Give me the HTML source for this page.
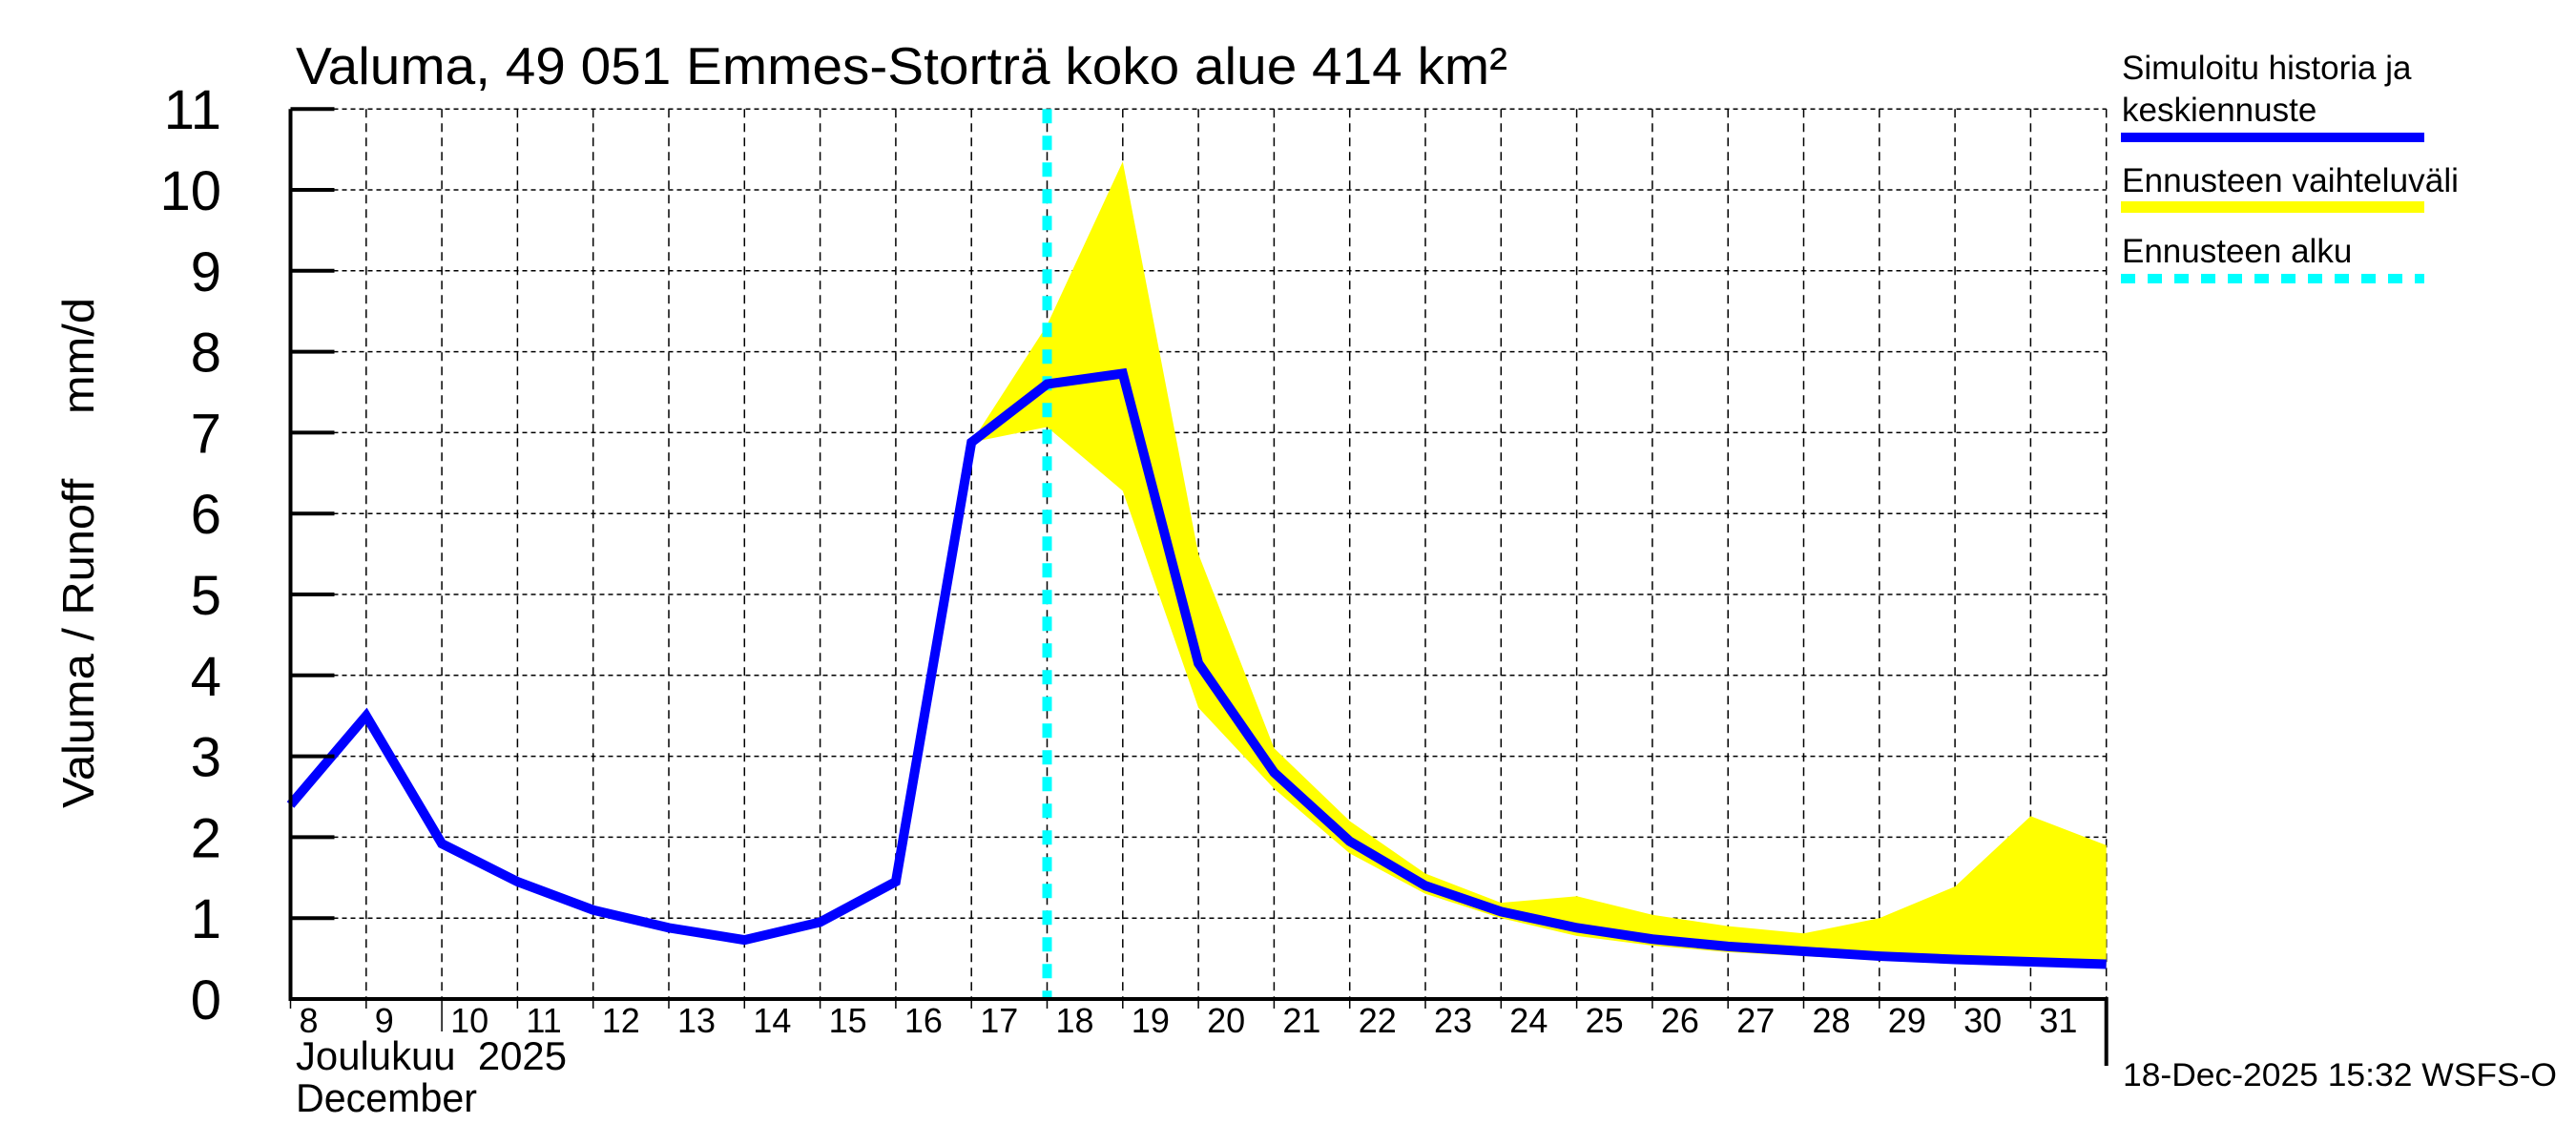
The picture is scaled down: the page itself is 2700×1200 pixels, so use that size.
<!DOCTYPE html>
<html><head><meta charset="utf-8">
<style>
html,body{margin:0;padding:0;background:#fff;}
svg{display:block;font-family:"Liberation Sans",sans-serif;}
</style></head>
<body>
<svg id="chart" width="2700" height="1200" viewBox="0 0 2700 1200" xmlns="http://www.w3.org/2000/svg">
<rect width="2700" height="1200" fill="#fff"/>
<g id="grid"></g>
<g id="band"></g>
<g id="series"></g>
<g id="axes"></g>
<text x="310" y="88" font-size="55" textLength="1270" lengthAdjust="spacingAndGlyphs">Valuma, 49 051 Emmes-Storträ koko alue 414 km²</text>
<text transform="translate(98,847) rotate(-90)" font-size="46" textLength="535" lengthAdjust="spacingAndGlyphs" xml:space="preserve">Valuma / Runoff     mm/d</text>
<text x="310" y="1121" font-size="42" textLength="284" lengthAdjust="spacingAndGlyphs" xml:space="preserve">Joulukuu  2025</text>
<text x="310" y="1165" font-size="42" textLength="190" lengthAdjust="spacingAndGlyphs">December</text>
<text x="2225" y="1138" font-size="34" textLength="455" lengthAdjust="spacingAndGlyphs">18-Dec-2025 15:32 WSFS-O</text>
<g>
<text x="2224" y="83" font-size="35">Simuloitu historia ja</text>
<text x="2224" y="127" font-size="35">keskiennuste</text>
<rect x="2223" y="139" width="318" height="10" fill="#0000ff"/>
<text x="2224" y="201" font-size="35" textLength="353" lengthAdjust="spacingAndGlyphs">Ennusteen vaihteluväli</text>
<rect x="2223" y="211" width="318" height="12" fill="#ffff00"/>
<text x="2224" y="275" font-size="35">Ennusteen alku</text>
<line x1="2223" y1="292" x2="2541" y2="292" stroke="#00ffff" stroke-width="10" stroke-dasharray="15 13"/>
</g>
</svg>
<script>
const days = [8,9,10,11,12,13,14,15,16,17,18,19,20,21,22,23,24,25,26,27,28,29,30,31,32];
const runoff = [2.4,3.5,1.92,1.45,1.1,0.88,0.73,0.95,1.45,6.88,7.6,7.73,4.15,2.8,1.95,1.4,1.08,0.88,0.74,0.65,0.59,0.53,0.49,0.46,0.43];
const bandDays = [17,18,19,20,21,22,23,24,25,26,27,28,29,30,31,32];
const bandUpper = [6.88,8.33,10.35,5.5,3.1,2.2,1.55,1.19,1.27,1.04,0.9,0.81,1.0,1.39,2.26,1.9];
const bandLower = [6.88,7.07,6.28,3.6,2.6,1.8,1.3,1.0,0.78,0.66,0.58,0.53,0.48,0.44,0.41,0.38];
const forecastStart = [18];
const yTicks = [0,1,2,3,4,5,6,7,8,9,10,11];
const xTickLabels = [8,9,10,11,12,13,14,15,16,17,18,19,20,21,22,23,24,25,26,27,28,29,30,31];

const X0=304.5, DX=79.3, Y0=1047, DY=84.8, XMIN=8, XMAX=32, YMAX=11;
const NS='http://www.w3.org/2000/svg';
function xs(d){return X0+(d-XMIN)*DX;}
function ys(v){return Y0-v*DY;}
function mk(tag,attrs,parent){const e=document.createElementNS(NS,tag);for(const k in attrs)e.setAttribute(k,attrs[k]);parent.appendChild(e);return e;}
const gGrid=document.getElementById('grid'),gBand=document.getElementById('band'),gSeries=document.getElementById('series'),gAxes=document.getElementById('axes');
const xRight=xs(XMAX), yTop=ys(YMAX);

yTicks.forEach(v=>{
  if(v>0){const g=mk('line',{x1:X0,y1:ys(v),x2:xRight,y2:ys(v),stroke:'#000','stroke-width':1.5,'stroke-dasharray':'5 4'},gGrid);
  
  }
  const t=mk('line',{x1:X0,y1:ys(v),x2:X0+46,y2:ys(v),stroke:'#000','stroke-width':4},gAxes);
  
  
  const l=mk('text',{x:232,y:ys(v)+21,'font-size':58,'text-anchor':'end'},gAxes);
  l.textContent=v;
  
  
});
for(let d=XMIN+1; d<=XMAX; d++){
  const g=mk('line',{x1:xs(d),y1:yTop,x2:xs(d),y2:Y0,stroke:'#000','stroke-width':1.5,'stroke-dasharray':'9 6'},gGrid);
  
  
}
xTickLabels.forEach(d=>{
  const t=mk('line',{x1:xs(d),y1:Y0,x2:xs(d),y2:Y0+(d===10?34:10),stroke:'#000','stroke-width':1.5},gAxes);
  
  
  const l=mk('text',{x:xs(d)+9,y:1082,'font-size':36},gAxes);
  l.textContent=d;
  
  
});
let pts=bandDays.map((d,i)=>xs(d)+','+ys(bandUpper[i]));
for(let i=bandDays.length-1;i>=0;i--)pts.push(xs(bandDays[i])+','+ys(bandLower[i]));
const poly=mk('polygon',{points:pts.join(' '),fill:'#ffff00'},gBand);


forecastStart.forEach(d=>{
  const f=mk('line',{x1:xs(d),y1:yTop,x2:xs(d),y2:Y0,stroke:'#00ffff','stroke-width':10,'stroke-dasharray':'15 13'},gSeries);
  
  
});
const pl=mk('polyline',{points:days.map((d,i)=>xs(d)+','+ys(runoff[i])).join(' '),fill:'none',stroke:'#0000ff','stroke-width':10,'stroke-linejoin':'miter'},gSeries);


const ax=mk('path',{d:`M${X0},${yTop} L${X0},${Y0} L${xRight},${Y0} L${xRight},1117`,fill:'none',stroke:'#000','stroke-width':4},gAxes);


</script>
</body></html>
